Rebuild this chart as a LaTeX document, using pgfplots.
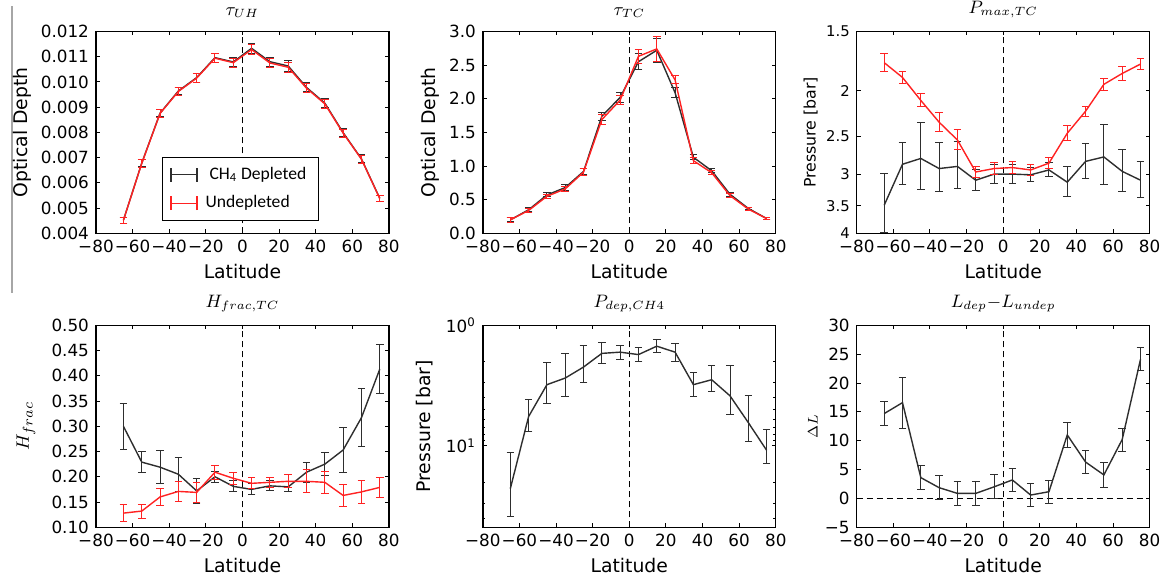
\documentclass[border=0pt]{standalone}
\usepackage{fontspec}
\setmainfont{DejaVu Sans}
\newfontfamily\legfont{Carlito}
\usepackage{pgfplots}
\pgfplotsset{compat=1.18}

\definecolor{dep}{HTML}{2E2E2E}
\definecolor{undep}{HTML}{FF2222}

\pgfplotsset{
  panel/.style={
    scale only axis, width=146.5pt, height=101pt, anchor=north west,
    xmin=-80, xmax=80, xtick={-80,-60,...,80},
    xticklabels={−80,−60,−40,−20,0,20,40,60,80},
    tick align=inside, major tick length=2pt, minor tick length=1.2pt,
    tick style={black, line width=0.5pt},
    axis line style={line width=0.7pt},
    ticklabel style={font=\fontsize{8.4}{10}\selectfont},
    /pgf/number format/assume math mode=true,
    scaled y ticks=false,
    label style={font=\fontsize{9.4}{11}\selectfont},
    xlabel=Latitude,
    xlabel style={at={(axis description cs:0.5,-0.19)}, anchor=center},
    title style={font=\fontsize{9}{10}\selectfont, at={(axis description cs:0.5,1)}, anchor=south, inner sep=0.6pt},
    every axis plot/.append style={line width=0.7pt, mark=none},
    error bars/y dir=both, error bars/y explicit,
    error bars/error bar style={line width=0.5pt},
    error bars/error mark options={rotate=90, mark size=1.9pt, line width=0.5pt},
  },
  ylab/.style={ylabel style={at={(axis description cs:-#1,0.5)}, anchor=center}},
  prec/.style={yticklabel style={/pgf/number format/fixed, /pgf/number format/fixed zerofill, /pgf/number format/precision=#1}},
}

\begin{document}
\begin{tikzpicture}
\path (0,0) rectangle (583.5pt,-286.5pt);
\draw[gray!70, line width=0.6pt] (6pt,0) -- (6pt,-143.5pt);

% tau_UH
\begin{axis}[panel, at={(48pt,-12.5pt)},
  title={$\tau_{UH}$}, ylabel={Optical Depth}, ylab=0.253,
  ymin=0.004, ymax=0.012, ytick={0.004,0.005,...,0.0125}, prec=3,
  legend style={at={(0.225,0.06)}, anchor=south west, draw=black, line width=0.5pt,
    font=\legfont\fontsize{8.8}{10}\selectfont, inner xsep=4pt, inner ysep=3pt, row sep=2.5pt},
  legend cell align=left,
  legend image code/.code={
    \draw[#1, line width=0.6pt] (0pt,0pt) -- (13pt,0pt);
    \draw[#1, line width=0.6pt] (0pt,-3.5pt) -- (0pt,3.5pt);
    \draw[#1, line width=0.6pt] (13pt,-3.5pt) -- (13pt,3.5pt);}]
\draw[dashed, dash pattern=on 3pt off 2pt, line width=0.5pt] (rel axis cs:0.5,0) -- (rel axis cs:0.5,1);
\addplot[dep, error bars/error bar style={dep}] coordinates {
  (-65,0.00452) +- (0,0.00012) (-55,0.00678) +- (0,0.00015) (-45,0.00876) +- (0,0.00015)
  (-35,0.00964) +- (0,0.00015) (-25,0.01017) +- (0,0.00018) (-15,0.01096) +- (0,0.00018)
  (-5,0.01079) +- (0,0.00018) (5,0.01133) +- (0,0.00020) (15,0.01080) +- (0,0.00018)
  (25,0.01063) +- (0,0.00020) (35,0.00978) +- (0,0.00018) (45,0.00916) +- (0,0.00018)
  (55,0.00799) +- (0,0.00016) (65,0.00695) +- (0,0.00016) (75,0.00539) +- (0,0.00012)};
\addlegendentry{\hspace{4pt}CH\textsubscript{4} Depleted}
\addplot[undep, error bars/error bar style={undep}] coordinates {
  (-65,0.00452) +- (0,0.00012) (-55,0.00677) +- (0,0.00015) (-45,0.00875) +- (0,0.00015)
  (-35,0.00962) +- (0,0.00015) (-25,0.01015) +- (0,0.00018) (-15,0.01094) +- (0,0.00018)
  (-5,0.01076) +- (0,0.00018) (5,0.01128) +- (0,0.00020) (15,0.01075) +- (0,0.00018)
  (25,0.01058) +- (0,0.00020) (35,0.00975) +- (0,0.00018) (45,0.00913) +- (0,0.00018)
  (55,0.00797) +- (0,0.00016) (65,0.00694) +- (0,0.00016) (75,0.00538) +- (0,0.00012)};
\addlegendentry{\hspace{2pt}Undepleted}
\end{axis}

% tau_TC
\begin{axis}[panel, at={(241.5pt,-12.5pt)},
  title={$\tau_{TC}$}, ylabel={Optical Depth}, ylab=0.18,
  ymin=0, ymax=3, ytick={0,0.5,...,3.1}, prec=1]
\draw[dashed, dash pattern=on 3pt off 2pt, line width=0.5pt] (rel axis cs:0.5,0) -- (rel axis cs:0.5,1);
\addplot[dep, error bars/error bar style={dep}] coordinates {
  (-65,0.20) +- (0,0.03) (-55,0.35) +- (0,0.03) (-45,0.57) +- (0,0.03)
  (-35,0.68) +- (0,0.04) (-25,0.92) +- (0,0.05) (-15,1.74) +- (0,0.06)
  (-5,2.02) +- (0,0.07) (5,2.55) +- (0,0.12) (15,2.72) +- (0,0.18)
  (25,2.09) +- (0,0.07) (35,1.13) +- (0,0.04) (45,0.93) +- (0,0.03)
  (55,0.58) +- (0,0.03) (65,0.37) +- (0,0.02) (75,0.22) +- (0,0.02)};
\addplot[undep, error bars/error bar style={undep}] coordinates {
  (-65,0.20) +- (0,0.04) (-55,0.34) +- (0,0.03) (-45,0.55) +- (0,0.03)
  (-35,0.66) +- (0,0.04) (-25,0.91) +- (0,0.05) (-15,1.69) +- (0,0.07)
  (-5,1.98) +- (0,0.07) (5,2.63) +- (0,0.10) (15,2.74) +- (0,0.19)
  (25,2.28) +- (0,0.06) (35,1.08) +- (0,0.04) (45,0.90) +- (0,0.03)
  (55,0.56) +- (0,0.03) (65,0.36) +- (0,0.02) (75,0.22) +- (0,0.02)};
\end{axis}

% P_max,TC
\begin{axis}[panel, at={(428.5pt,-12.5pt)},
  title={$P_{max,TC}$}, ylabel={Pressure [bar]}, ylab=0.157,
  ylabel style={font=\fontsize{7.9}{9}\selectfont},
  yticklabel style={font=\fontsize{7.4}{9}\selectfont},
  ymode=log, y dir=reverse, ymin=1.5, ymax=4,
  ytick={1.5,2,2.5,3,3.5,4}, yticklabels={1.5,2,2.5,3,3.5,4}]
\draw[dashed, dash pattern=on 3pt off 2pt, line width=0.5pt] (rel axis cs:0.5,0) -- (rel axis cs:0.5,1);
\addplot[dep, error bars/error bar style={dep}] coordinates {
  (-65,3.49) +- (0,0.50) (-55,2.86) +- (0,0.29) (-45,2.78) +- (0,0.45)
  (-35,2.92) +- (0,0.35) (-25,2.89) +- (0,0.33) (-15,3.09) +- (0,0.16)
  (-5,3.00) +- (0,0.14) (5,3.00) +- (0,0.14) (15,3.01) +- (0,0.10)
  (25,2.94) +- (0,0.10) (35,3.12) +- (0,0.23) (45,2.82) +- (0,0.24)
  (55,2.76) +- (0,0.40) (65,2.96) +- (0,0.30) (75,3.09) +- (0,0.27)};
\addplot[undep, error bars/error bar style={undep}] coordinates {
  (-65,1.746) +- (0,0.075) (-55,1.876) +- (0,0.055) (-45,2.097) +- (0,0.068)
  (-35,2.331) +- (0,0.108) (-25,2.542) +- (0,0.125) (-15,2.969) +- (0,0.084)
  (-5,2.92) +- (0,0.082) (5,2.906) +- (0,0.08) (15,2.94) +- (0,0.08)
  (25,2.844) +- (0,0.077) (35,2.46) +- (0,0.09) (45,2.21) +- (0,0.055)
  (55,1.94) +- (0,0.055) (65,1.84) +- (0,0.06) (75,1.758) +- (0,0.043)};
\end{axis}

% H_frac,TC
\begin{axis}[panel, at={(48pt,-159.5pt)},
  title={$H_{frac,TC}$}, ylabel={$H_{frac}$}, ylab=0.239,
  ymin=0.1, ymax=0.5, ytick={0.1,0.15,...,0.51}, prec=2]
\draw[dashed, dash pattern=on 3pt off 2pt, line width=0.5pt] (rel axis cs:0.5,0) -- (rel axis cs:0.5,1);
\addplot[dep, error bars/error bar style={dep}] coordinates {
  (-65,0.300) +- (0,0.046) (-55,0.229) +- (0,0.021) (-45,0.219) +- (0,0.033)
  (-35,0.205) +- (0,0.034) (-25,0.172) +- (0,0.025) (-15,0.200) +- (0,0.011)
  (-5,0.181) +- (0,0.011) (5,0.175) +- (0,0.011) (15,0.182) +- (0,0.010)
  (25,0.180) +- (0,0.010) (35,0.209) +- (0,0.020) (45,0.225) +- (0,0.023)
  (55,0.253) +- (0,0.045) (65,0.317) +- (0,0.058) (75,0.413) +- (0,0.049)};
\addplot[undep, error bars/error bar style={undep}] coordinates {
  (-65,0.128) +- (0,0.017) (-55,0.132) +- (0,0.014) (-45,0.160) +- (0,0.017)
  (-35,0.171) +- (0,0.020) (-25,0.169) +- (0,0.020) (-15,0.209) +- (0,0.014)
  (-5,0.197) +- (0,0.012) (5,0.187) +- (0,0.011) (15,0.189) +- (0,0.010)
  (25,0.191) +- (0,0.013) (35,0.191) +- (0,0.023) (45,0.189) +- (0,0.022)
  (55,0.163) +- (0,0.021) (65,0.170) +- (0,0.022) (75,0.179) +- (0,0.020)};
\end{axis}

% P_dep,CH4
\begin{axis}[panel, at={(241.5pt,-159.5pt)},
  title={$P_{dep,CH4}$}, ylabel={Pressure [bar]}, ylab=0.198,
  ymode=log, y dir=reverse, ymin=1, ymax=47.5,
  ytick={1,10}, yticklabels={10\textsuperscript{0},10\textsuperscript{1}},
  minor ytick={2,3,4,5,6,7,8,9,20,30,40}]
\draw[dashed, dash pattern=on 3pt off 2pt, line width=0.5pt] (rel axis cs:0.5,0) -- (rel axis cs:0.5,1);
\addplot[dep, error bars/error bar style={dep}] coordinates {
  (-65,22.7) += (0,16.0) -= (0,11.3)
  (-55,5.72) += (0,1.92) -= (0,1.57)
  (-45,3.11) += (0,1.32) -= (0,1.06)
  (-35,2.74) += (0,1.16) -= (0,1.03)
  (-25,2.22) += (0,0.79) -= (0,0.76)
  (-15,1.71) += (0,0.38) -= (0,0.31)
  (-5,1.67) += (0,0.25) -= (0,0.21)
  (5,1.75) += (0,0.26) -= (0,0.21)
  (15,1.49) += (0,0.20) -= (0,0.18)
  (25,1.67) += (0,0.32) -= (0,0.25)
  (35,3.11) += (0,0.79) -= (0,0.66)
  (45,2.83) += (0,0.71) -= (0,0.69)
  (55,3.85) += (0,1.69) -= (0,1.71)
  (65,6.42) += (0,2.72) -= (0,2.57)
  (75,10.9) += (0,3.2) -= (0,3.64)};
\end{axis}

% L_dep - L_undep
\begin{axis}[panel, at={(428.5pt,-159.5pt)},
  title={$L_{dep}{-}L_{undep}$}, ylabel={$\Delta L$}, ylab=0.15,
  ylabel style={font=\fontsize{7.5}{9}\selectfont},
  ymin=-5, ymax=30, ytick={-5,0,...,30},
  yticklabels={−5,0,5,10,15,20,25,30}]
\draw[dashed, dash pattern=on 3pt off 2pt, line width=0.5pt] (rel axis cs:0.5,0) -- (rel axis cs:0.5,1);
\draw[dashed, dash pattern=on 3pt off 2pt, line width=0.5pt] (axis cs:-80,0) -- (axis cs:80,0);
\addplot[dep, error bars/error bar style={dep}] coordinates {
  (-65,14.7) +- (0,2.1) (-55,16.6) +- (0,4.4) (-45,3.6) +- (0,2.1)
  (-35,1.86) +- (0,2.1) (-25,0.87) +- (0,2.1) (-15,0.87) +- (0,2.1)
  (-5,2.0) +- (0,2.1) (5,3.2) +- (0,2.0) (15,0.58) +- (0,2.0)
  (25,1.16) +- (0,2.0) (35,11.0) +- (0,2.1) (45,6.3) +- (0,2.0)
  (55,4.07) +- (0,2.1) (65,10.2) +- (0,2.0) (75,24.1) +- (0,2.0)};
\end{axis}
\path (0,0) rectangle (583.5pt,-286.5pt);
\end{tikzpicture}
\end{document}
